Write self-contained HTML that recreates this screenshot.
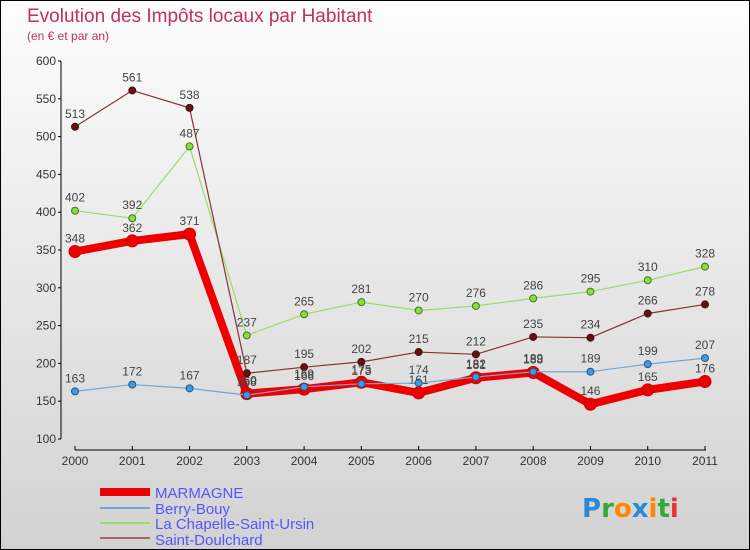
<!DOCTYPE html>
<html><head><meta charset="utf-8"><style>
body{margin:0}
#c{width:750px;height:550px;position:relative;box-sizing:border-box;border:1px solid #000;background:linear-gradient(#fdfdfd,#d2d2d2);font-family:"Liberation Sans",sans-serif;overflow:hidden}
</style></head><body>
<div id="c">
<svg id="s" width="750" height="550" style="position:absolute;left:-1px;top:-1px">
<text x="27" y="22" font-size="19" fill="#c0305a">Evolution des Impôts locaux par Habitant</text>
<text x="27" y="40" font-size="12" fill="#c0305a">(en € et par an)</text>
<g id="axes"></g><g id="marks"></g>
<g>
<rect x="100" y="488" width="50" height="8" fill="#e00"/>
<text x="155" y="498" font-size="15" fill="#5555ff">MARMAGNE</text>
<rect x="100" y="507" width="50" height="2" fill="#6fa8d6"/>
<text x="155" y="514" font-size="15" fill="#5555ff">Berry-Bouy</text>
<rect x="100" y="522" width="50" height="2" fill="#99dd66"/>
<text x="155" y="529" font-size="15" fill="#5555ff">La Chapelle-Saint-Ursin</text>
<rect x="100" y="537" width="50" height="2" fill="#a06868"/>
<text x="155" y="545" font-size="15" fill="#5555ff">Saint-Doulchard</text>
</g>
<text x="582" y="517" font-size="26" font-family="DejaVu Sans" font-weight="bold"><tspan fill="#2a8ad6">P</tspan><tspan fill="#33aa33">r</tspan><tspan fill="#ff8800">o</tspan><tspan fill="#2a8ad6">x</tspan><tspan fill="#ff8800">i</tspan><tspan fill="#33aa33">t</tspan><tspan fill="#ee3333">i</tspan></text>
</svg></div>
<script>
const years=[2000,2001,2002,2003,2004,2005,2006,2007,2008,2009,2010,2011];
const yTicks=[100,150,200,250,300,350,400,450,500,550,600];
const marmagne=[348,362,371,160,166,175,161,181,188,146,165,176];
const berry=[163,172,167,158,169,173,174,182,189,189,199,207];
const chapelle=[402,392,487,237,265,281,270,276,286,295,310,328];
const doulchard=[513,561,538,187,195,202,215,212,235,234,266,278];
const NS='http://www.w3.org/2000/svg';
const X=i=>75+i*(630/11);
const Y=v=>439-(v-100)*(378/500);
function el(t,a,p){const e=document.createElementNS(NS,t);for(const k in a)e.setAttribute(k,a[k]);p.appendChild(e);return e;}
const ax=document.getElementById('axes'),mk=document.getElementById('marks');
let l=el('line',{x1:61,y1:61,x2:61,y2:439,stroke:'#000'},ax);


l=el('line',{x1:75,y1:450,x2:706,y2:450,stroke:'#000'},ax);


yTicks.forEach(v=>{
 el('line',{x1:58,x2:61,y1:Y(v),y2:Y(v),stroke:'#000'},ax);
 const t=el('text',{x:56,y:Y(v)+4,'font-size':12,fill:'#333','text-anchor':'end'},ax);t.textContent=v;
 
 
});
years.forEach((y,i)=>{
 el('line',{x1:X(i),x2:X(i),y1:446,y2:450,stroke:'#000'},ax);
 const t=el('text',{x:X(i),y:465,'font-size':12,fill:'#333','text-anchor':'middle'},ax);t.textContent=y;
 
 
});
function series(d,name,col,w,r,dot,stroke){
 const g=el('g',{},mk);
 
 
 const p=el('polyline',{points:d.map((v,i)=>X(i)+','+Y(v)).join(' '),fill:'none',stroke:col,'stroke-width':w,'stroke-linejoin':'round'},g);
 
 
 d.forEach((v,i)=>{
  const c=el('circle',{cx:X(i),cy:Y(v),r:r,fill:dot,stroke:stroke,'stroke-width':1},g);
  
  
  const t=el('text',{x:X(i),y:Y(v)-9,'font-size':12,fill:'#444','text-anchor':'middle'},g);t.textContent=v;
  
  
 });
}
series(marmagne,'marmagne','#ee0000',8,6,'#ee0000','#cc0000');
series(chapelle,'chapelle','#99dd66',1.2,3.5,'#88dd44','#447722');
series(doulchard,'doulchard','#883333',1.2,3.5,'#661111','#441111');
series(berry,'berry','#6fa8d6',1.2,3.5,'#4499dd','#225588');
</script>
</body></html>
